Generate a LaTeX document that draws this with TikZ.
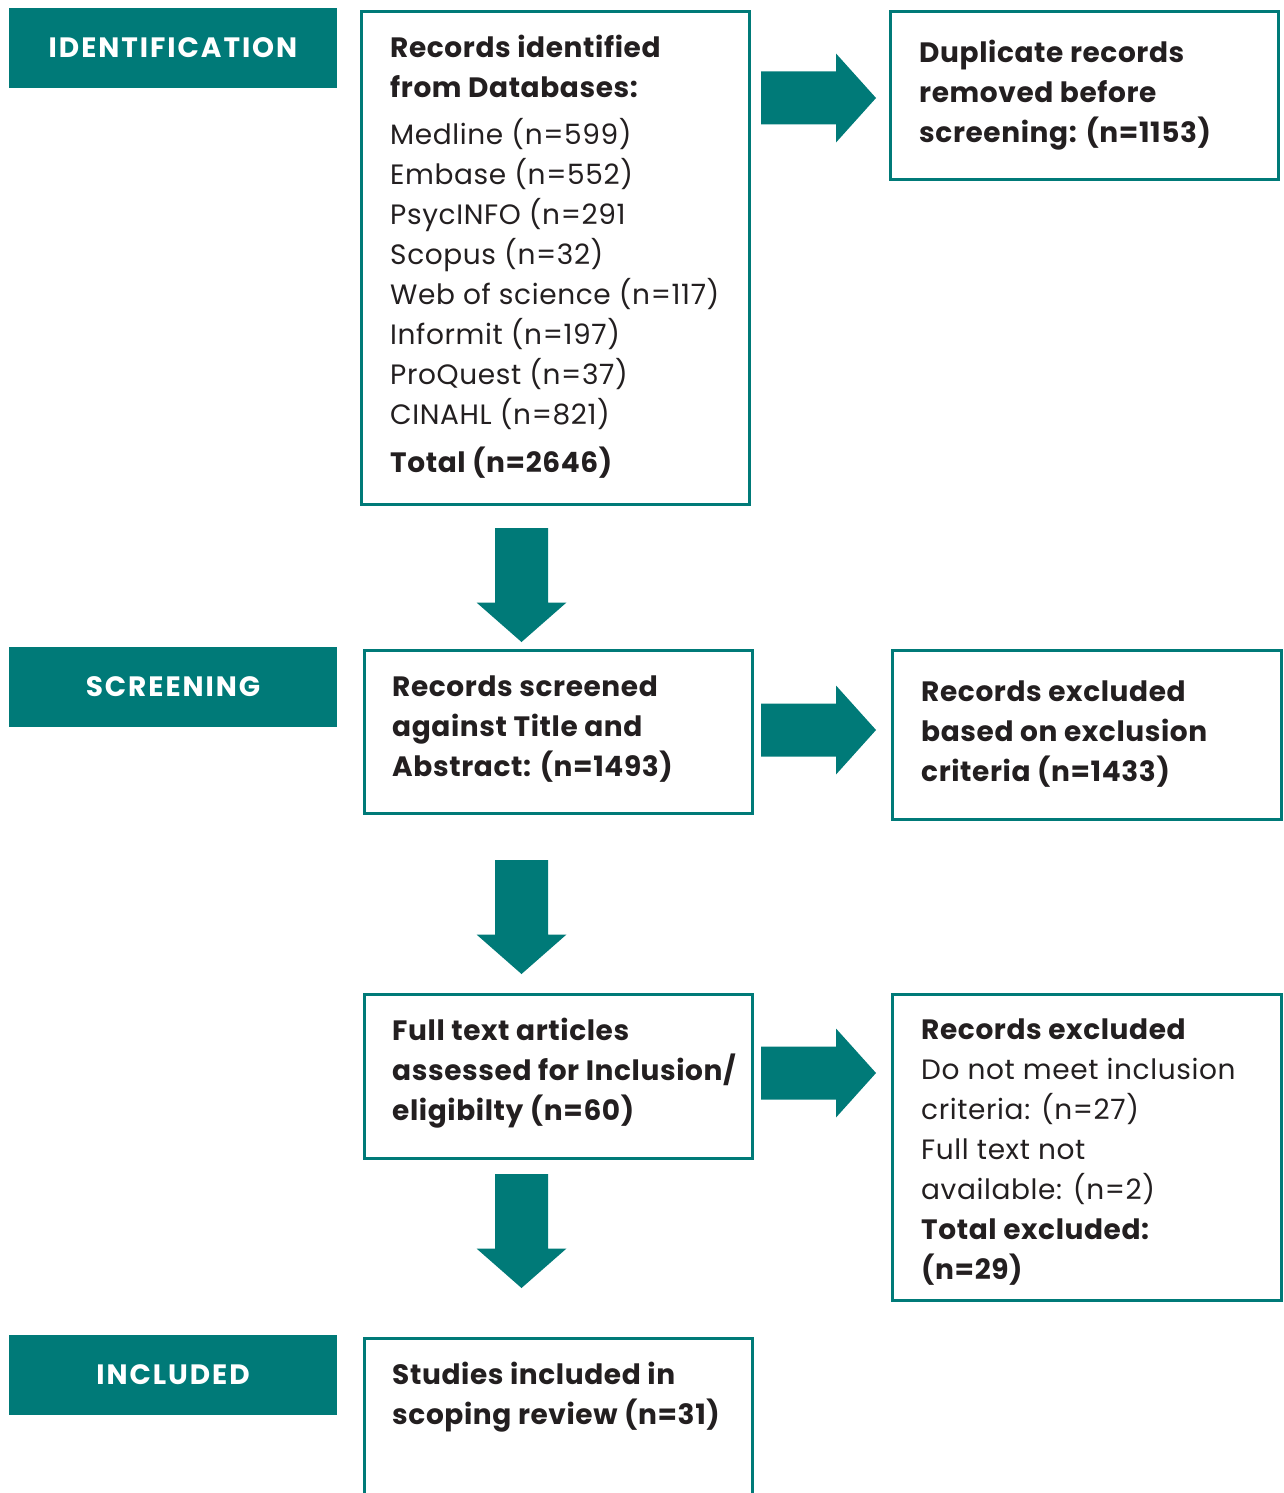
\documentclass[tikz,border=0pt]{standalone}
\usepackage{fontspec}
\setmainfont{Poppins}[LetterSpace=2.2]
\definecolor{teal1}{HTML}{007A78}
\definecolor{ink}{HTML}{231F20}
\newcommand{\firstline}{\rule{0pt}{30pt}}
\newcommand{\rblock}[2]{\fill[teal1] (#1,#2-26.5) -- (#1+75,#2-26.5) -- (#1+75,#2-44.5) -- (#1+115,#2) -- (#1+75,#2+44.5) -- (#1+75,#2+26.5) -- (#1,#2+26.5) -- cycle;}
\newcommand{\dblock}[2]{\fill[teal1] (#1-26.5,#2) -- (#1-26.5,#2+74.5) -- (#1-45,#2+74.5) -- (#1,#2+114) -- (#1+45,#2+74.5) -- (#1+26.5,#2+74.5) -- (#1+26.5,#2) -- cycle;}
\begin{document}
\begin{tikzpicture}[x=1pt,y=-1pt,
  stage/.style={fill=teal1, text=white, inner sep=0, minimum width=328, minimum height=80,
    font=\fontsize{28}{34}\selectfont\bfseries\addfontfeature{LetterSpace=7}},
  frame/.style={draw=teal1, line width=2.7, inner sep=0, anchor=north west},
  txt/.style={anchor=north west, inner sep=0, align=left, text=ink,
    font=\fontsize{28}{40}\selectfont},
]
\useasboundingbox[fill=white] (0,0) rectangle (1283,1493);

% stage labels
\node[stage] (sid) at (173,48) {\raisebox{-1.5pt}{IDENTIFICATION}};
\node[stage] (ssc) at (173,687) {\raisebox{-1pt}{SCREENING}};
\node[stage] (sin) at (173,1375) {\raisebox{-1pt}{INCLUDED}};

% frames
\node[frame, minimum width=388, minimum height=493] (b1) at (360,10) {};
\node[frame, minimum width=388, minimum height=168] (b2) at (889,10) {};
\node[frame, minimum width=388, minimum height=163] (b3) at (363,649) {};
\node[frame, minimum width=389, minimum height=169] (b4) at (891,649) {};
\node[frame, minimum width=388, minimum height=164] (b5) at (363,993) {};
\node[frame, minimum width=389, minimum height=306] (b6) at (891,993) {};
\node[frame, minimum width=388, minimum height=200] (b7) at (363,1337) {};

% texts
\node[txt] (t1) at (390,27) {\firstline\textbf{Records identified}\\\textbf{from Databases:}\\[7pt]
Medline (n=599)\\Embase (n=552)\\PsycINFO (n=291\\Scopus (n=32)\\Web of science (n=117)\\
Informit (n=197)\\ProQuest (n=37)\\CINAHL (n=821)\\[8pt]\textbf{Total (n=2646)}};
\node[txt] (t2) at (919,32) {\firstline\textbf{Duplicate records}\\\textbf{removed before}\\\textbf{screening: (n=1153)}};
\node[txt] (t3) at (392,666) {\firstline\textbf{Records screened}\\\textbf{against Title and}\\\textbf{Abstract: (n=1493)}};
\node[txt] (t4) at (921,671) {\firstline\textbf{Records excluded}\\\textbf{based on exclusion}\\\textbf{criteria (n=1433)}};
\node[txt] (t5) at (392,1010) {\firstline\textbf{Full text articles}\\\textbf{assessed for Inclusion/}\\\textbf{eligibilty (n=60)}};
\node[txt] (t6) at (921,1009) {\firstline\textbf{Records excluded}\\Do not meet inclusion\\criteria: (n=27)\\Full text not\\available: (n=2)\\\textbf{Total excluded:}\\\textbf{(n=29)}};
\node[txt] (t7) at (392,1354) {\firstline\textbf{Studies included in}\\\textbf{scoping review (n=31)}};

% block arrows
\rblock{761}{98}
\rblock{761}{730}
\rblock{761}{1073}
\dblock{521.5}{528}
\dblock{521.5}{860}
\dblock{521.5}{1174}
\end{tikzpicture}
\end{document}
